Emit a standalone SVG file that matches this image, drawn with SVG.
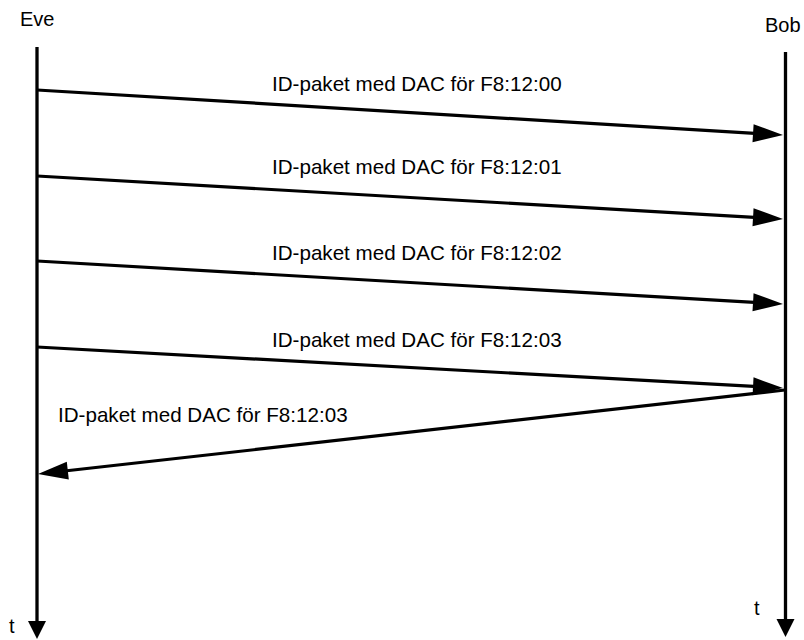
<svg xmlns="http://www.w3.org/2000/svg" width="804" height="640" viewBox="0 0 804 640">
  <style>
    text { font-family: "Liberation Sans", Arial, sans-serif; fill: #000; }
    .name { font-size: 20px; }
    .msg { font-size: 20.6px; }
    .lifeline { stroke: #000; stroke-width: 3.3; fill: none; }
    .msgline { stroke: #000; stroke-width: 3.2; fill: none; marker-end: url(#head); }
    .timeline { marker-end: url(#down); }
  </style>
  <defs>
    <marker id="head" markerUnits="userSpaceOnUse" markerWidth="32" markerHeight="20" viewBox="0 -10 31 20" refX="10" refY="0" orient="auto">
      <path d="M0,-9 L30,0 L0,9 Z" fill="#000"/>
    </marker>
    <marker id="down" markerUnits="userSpaceOnUse" markerWidth="20" markerHeight="20" viewBox="0 -10 19 20" refX="4" refY="0" orient="auto">
      <path d="M0,-9 L18,0 L0,9 Z" fill="#000"/>
    </marker>
  </defs>

  <g id="eve">
    <text class="name" x="20" y="26">Eve</text>
    <line class="lifeline timeline" x1="37" y1="47" x2="37" y2="625"/>
    <text class="name" x="9" y="633">t</text>
  </g>

  <g id="bob">
    <text class="name" x="765" y="32">Bob</text>
    <line class="lifeline timeline" x1="785.5" y1="52" x2="785.5" y2="623"/>
    <text class="name" x="754" y="615">t</text>
  </g>

  <g id="connectors">
    <line class="msgline" x1="37" y1="90" x2="763.04" y2="133.8"/>
    <line class="msgline" x1="37" y1="176" x2="763.03" y2="217.85"/>
    <line class="msgline" x1="37" y1="261" x2="763.03" y2="302.85"/>
    <line class="msgline" x1="37" y1="347" x2="763.03" y2="386.9"/>
    <line class="msgline" x1="785" y1="390" x2="57.87" y2="471.77"/>
  </g>

  <g id="labels">
    <text class="msg" x="272" y="91">ID-paket med DAC för F8:12:00</text>
    <text class="msg" x="272" y="174">ID-paket med DAC för F8:12:01</text>
    <text class="msg" x="272" y="260">ID-paket med DAC för F8:12:02</text>
    <text class="msg" x="272" y="347">ID-paket med DAC för F8:12:03</text>
    <text class="msg" x="58" y="422">ID-paket med DAC för F8:12:03</text>
  </g>
</svg>
